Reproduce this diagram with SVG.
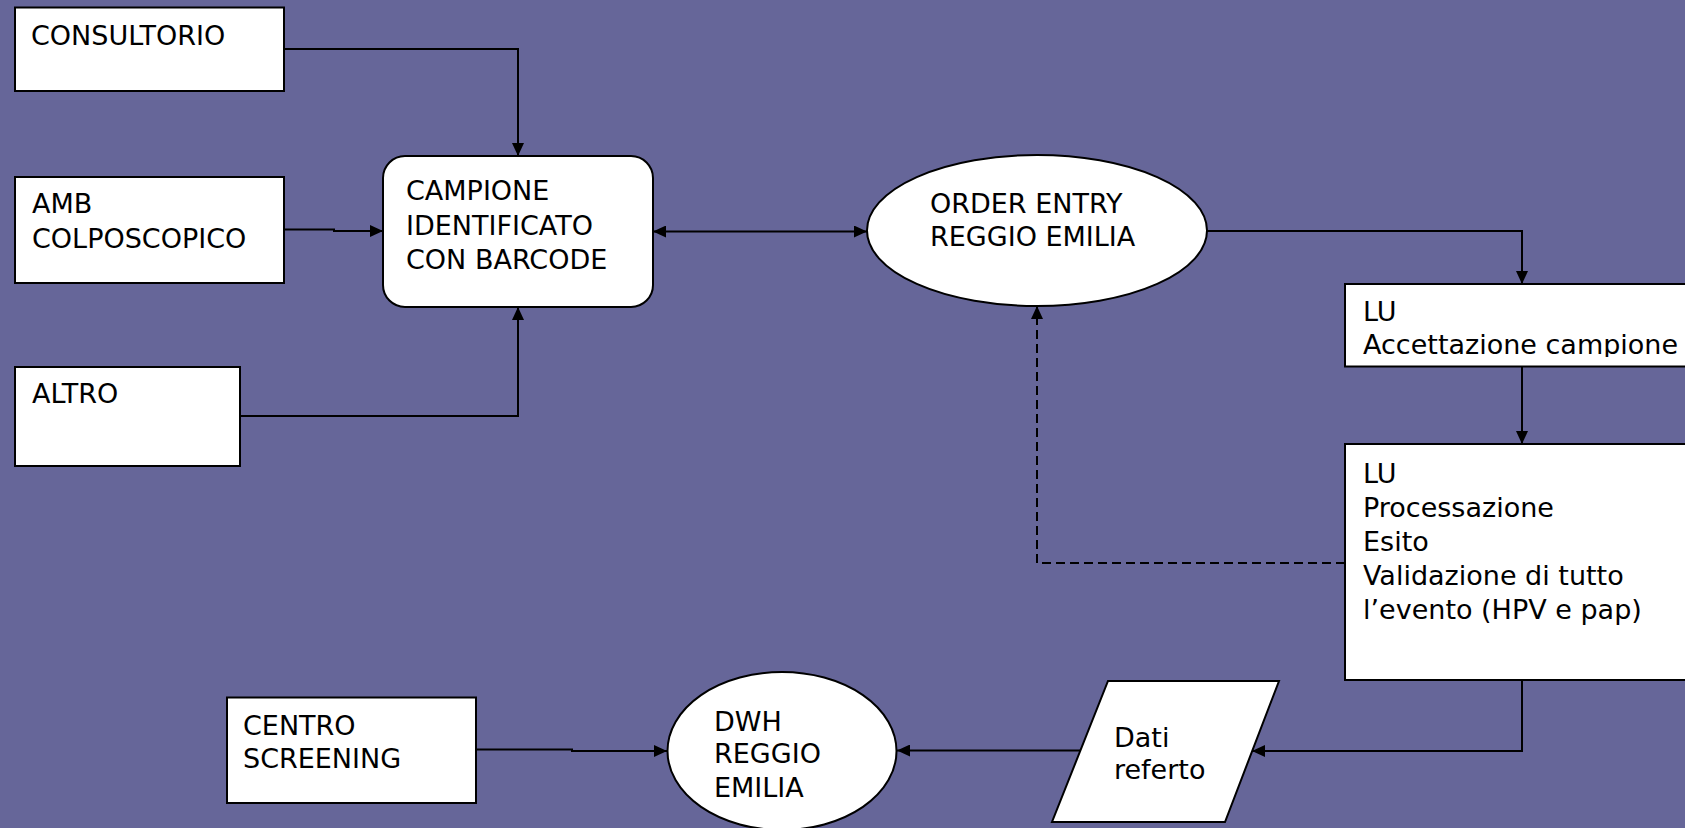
<svg xmlns="http://www.w3.org/2000/svg" width="1685" height="828" viewBox="0 0 1685 828">
<style>
.box{fill:#ffffff;stroke:#000000;stroke-width:2}
.txt{font-family:"DejaVu Sans","Verdana",sans-serif;font-size:27px;fill:#000000}
.ln{fill:none;stroke:#000000;stroke-width:2}
.dash{fill:none;stroke:#000000;stroke-width:2;stroke-dasharray:9,5}
</style>
<defs>
<marker id="arr" markerUnits="userSpaceOnUse" markerWidth="14" markerHeight="12" refX="13" refY="6" orient="auto-start-reverse">
<path d="M0,0 L13,6 L0,12 z" fill="#000000"/>
</marker>
<clipPath id="clipAcc"><rect x="1340" y="280" width="350" height="77"/></clipPath>
</defs>
<rect x="0" y="0" width="1685" height="828" fill="#666699"/>
<g id="connectors">
<path class="ln" d="M284,49 H518 V156" marker-end="url(#arr)"/>
<path class="ln" d="M284,229.5 H334 V231 H383" marker-end="url(#arr)"/>
<path class="ln" d="M240,416 H518 V307" marker-end="url(#arr)"/>
<path class="ln" d="M653,231.5 H867" marker-start="url(#arr)" marker-end="url(#arr)"/>
<path class="ln" d="M1207,231 H1522 V284" marker-end="url(#arr)"/>
<path class="ln" d="M1522,366.5 V444" marker-end="url(#arr)"/>
<path class="dash" d="M1345,563 H1037 V306" marker-end="url(#arr)"/>
<path class="ln" d="M1522,680 V751 H1252" marker-end="url(#arr)"/>
<path class="ln" d="M1080,750.5 H897" marker-end="url(#arr)"/>
<path class="ln" d="M476,749.5 H572 V751 H667" marker-end="url(#arr)"/>
</g>
<g id="consultorio">
<rect class="box" x="15" y="7.5" width="269" height="83.5"/>
<text class="txt" x="31" y="45">CONSULTORIO</text>
</g>
<g id="amb">
<rect class="box" x="15" y="177" width="269" height="106"/>
<text class="txt" x="32" y="213">AMB</text>
<text class="txt" x="32" y="248">COLPOSCOPICO</text>
</g>
<g id="altro">
<rect class="box" x="15" y="367" width="225" height="99"/>
<text class="txt" x="32" y="403">ALTRO</text>
</g>
<g id="campione">
<rect class="box" x="383" y="156" width="270" height="151" rx="22" ry="22"/>
<text class="txt" x="406" y="200">CAMPIONE</text>
<text class="txt" x="406" y="235">IDENTIFICATO</text>
<text class="txt" x="406" y="269">CON BARCODE</text>
</g>
<g id="order-entry">
<ellipse class="box" cx="1037" cy="230.5" rx="170" ry="75.5"/>
<text class="txt" x="930" y="213">ORDER ENTRY</text>
<text class="txt" x="930" y="246">REGGIO EMILIA</text>
</g>
<g id="lu-accettazione">
<rect class="box" x="1345" y="284" width="350" height="82.5"/>
<text class="txt" x="1363" y="321">LU</text>
<text class="txt" x="1363" y="354" clip-path="url(#clipAcc)">Accettazione campione</text>
</g>
<g id="lu-processazione">
<rect class="box" x="1345" y="444" width="350" height="236"/>
<text class="txt" x="1363" y="482.5">LU</text>
<text class="txt" x="1363" y="516.5">Processazione</text>
<text class="txt" x="1363" y="550.5">Esito</text>
<text class="txt" x="1363" y="584.5">Validazione di tutto</text>
<text class="txt" x="1363" y="618.5">l’evento (HPV e pap)</text>
</g>
<g id="dati-referto">
<polygon class="box" points="1108,681 1279,681 1225,822 1052,822"/>
<text class="txt" x="1114" y="747">Dati</text>
<text class="txt" x="1114" y="779">referto</text>
</g>
<g id="dwh">
<ellipse class="box" cx="782" cy="751" rx="114.5" ry="79"/>
<text class="txt" x="714" y="731">DWH</text>
<text class="txt" x="714" y="763">REGGIO</text>
<text class="txt" x="714" y="797">EMILIA</text>
</g>
<g id="centro-screening">
<rect class="box" x="227" y="697.5" width="249" height="105.5"/>
<text class="txt" x="243" y="735">CENTRO</text>
<text class="txt" x="243" y="768">SCREENING</text>
</g>
</svg>
